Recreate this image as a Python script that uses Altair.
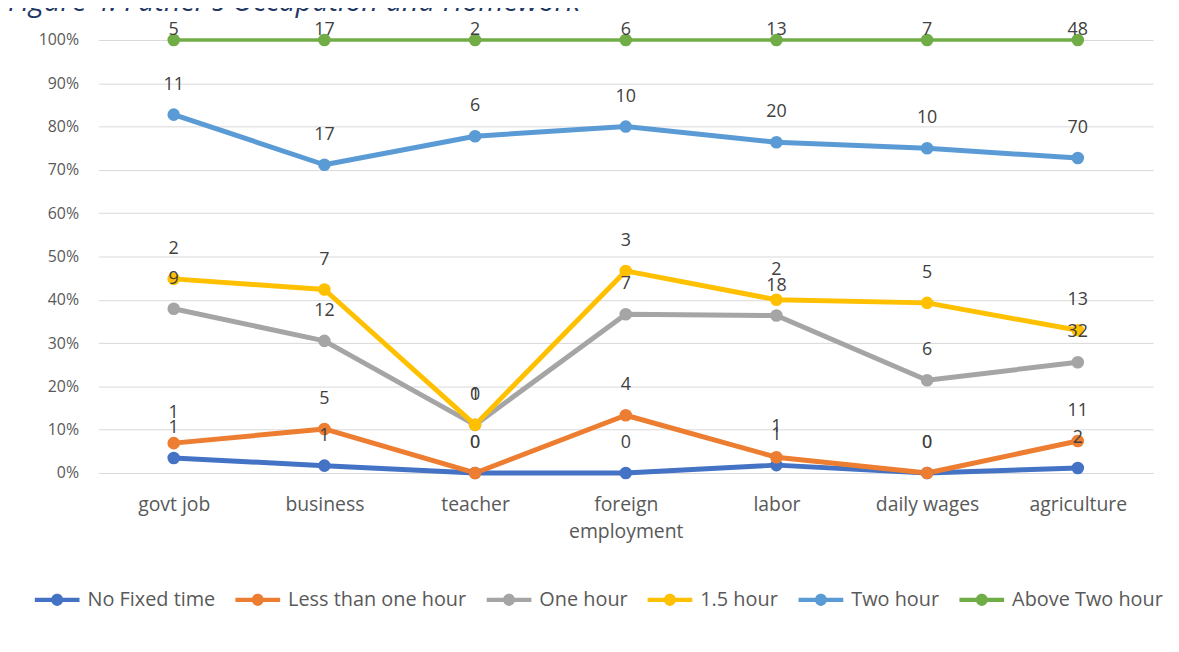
import altair as alt
import pandas as pd

occupations = ["govt job", "business", "teacher", "foreign employment",
               "labor", "daily wages", "agriculture"]
series = ["No Fixed time", "Less than one hour", "One hour", "1.5 hour",
          "Two hour", "Above Two hour"]
colors = ["#4472C4", "#ED7D31", "#A5A5A5", "#FFC000", "#5B9BD5", "#70AD47"]

no_fixed = [1, 1, 0, 0, 1, 0, 2]
less_one = [1, 5, 0, 4, 1, 0, 11]
one_hour = [9, 12, 1, 7, 18, 6, 32]
one_half = [2, 7, 0, 3, 2, 5, 13]
two_hour = [11, 17, 6, 10, 20, 10, 70]
above_two = [5, 17, 2, 6, 13, 7, 48]

y_ticks = [0, 0.1, 0.2, 0.3, 0.4, 0.5, 0.6, 0.7, 0.8, 0.9, 1.0]

values = [no_fixed, less_one, one_hour, one_half, two_hour, above_two]
rows = []
for oi, occ in enumerate(occupations):
    for si, s in enumerate(series):
        rows.append({"occupation": occ, "series": s, "sidx": si,
                     "count": values[si][oi]})
df = pd.DataFrame(rows)

FONT = "Open Sans"
GRID = "#D9D9D9"
LBL = "#595959"

base = (
    alt.Chart(df)
    .transform_joinaggregate(total="sum(count)", groupby=["occupation"])
    .transform_window(cum="sum(count)", sort=[alt.SortField("sidx")],
                      groupby=["occupation"], frame=[None, 0])
    .transform_calculate(pct="datum.cum / datum.total")
)

x = alt.X(
    "occupation:N",
    sort=occupations,
    scale=alt.Scale(type="point", padding=0.5, domain=occupations),
    axis=alt.Axis(
        title=None, grid=False, ticks=False, domain=True, domainColor=GRID,
        domainWidth=1, labelAngle=0, labelPadding=23, labelFont=FONT,
        labelFontSize=19.5, labelColor=LBL, labelLineHeight=27,
        labelExpr="datum.label == 'foreign employment' ? ['foreign', 'employment'] : datum.label",
    ),
)
y = alt.Y(
    "pct:Q",
    scale=alt.Scale(domain=[0, 1]),
    axis=alt.Axis(
        title=None, values=y_ticks, format=".0%", grid=True, gridColor=GRID,
        gridWidth=1, domain=False, ticks=False, labelPadding=20,
        labelFont=FONT, labelFontSize=16, labelColor=LBL,
    ),
)
color_scale = alt.Scale(domain=series, range=colors)

symbol_path = ("M-1,-0.1H1V0.1H-1Z "
               "M0.27,0A0.27,0.27,0,1,1,-0.27,0A0.27,0.27,0,1,1,0.27,0Z")

legend = alt.Legend(
    orient="none", legendX=-64, legendY=541, direction="horizontal",
    columns=6, title=None, symbolType=symbol_path, symbolSize=2025,
    symbolStrokeWidth=0, symbolOpacity=1, labelFont=FONT,
    labelFontSize=20, labelColor=LBL, columnPadding=20,
    labelOffset=8, padding=0, labelLimit=400,
)

lines = base.mark_line(strokeJoin="round").encode(
    x=x, y=y,
    color=alt.Color("series:N", scale=color_scale, legend=legend),
    strokeWidth=alt.condition("datum.series == 'Above Two hour'",
                              alt.value(3.5), alt.value(5)),
)

points = base.mark_point(filled=True, size=160, opacity=1).encode(
    x=x, y=y,
    color=alt.Color("series:N", scale=color_scale, legend=legend),
)

labels = base.mark_text(dy=-30, fontSize=18, font=FONT, color="#404040").encode(
    x=x, y=y, text="count:Q"
).transform_filter("datum.series != 'Above Two hour'")

top_labels = base.mark_text(dy=-10, fontSize=18, font=FONT, color="#404040").encode(
    x=x, y=y, text="count:Q"
).transform_filter("datum.series == 'Above Two hour'")

chart = (
    alt.layer(lines, points, labels, top_labels)
    .properties(
        width=1062, height=436,
        autosize=alt.AutoSizeParams(type="none"),
        padding={"left": 91, "top": 30, "right": 18, "bottom": 170},
        title=alt.TitleParams(
            "Figure 4: Father's Occupation and Homework",
            anchor="start", frame="group", dx=-91, offset=4,
            font=FONT, fontSize=29, fontStyle="italic", fontWeight="normal",
            color="#1F3864",
        ),
    )
    .configure_view(stroke=None)
)

chart.save("out.html", embed_options={"renderer": "svg", "actions": False})
